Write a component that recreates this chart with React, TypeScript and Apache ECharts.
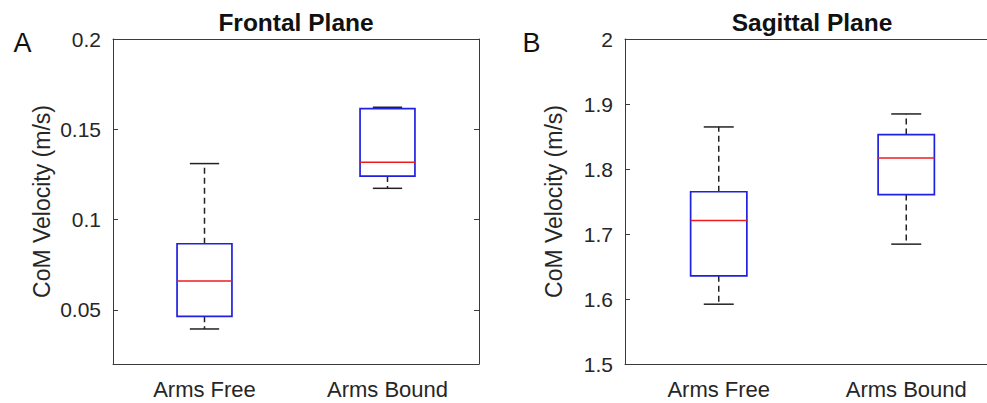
import React, { useEffect, useRef } from "react";
import * as echarts from "echarts";

const categories = ["Arms Free", "Arms Bound"];

// Frontal plane (A)
const frontalMin = [0.0394, 0.1173];
const frontalQ1 = [0.0464, 0.1241];
const frontalMedian = [0.066, 0.1317];
const frontalQ3 = [0.0866, 0.1614];
const frontalMax = [0.131, 0.1622];

// Sagittal plane (B)
const sagittalMin = [1.592, 1.6844];
const sagittalQ1 = [1.6357, 1.7607];
const sagittalMedian = [1.7207, 1.817];
const sagittalQ3 = [1.765, 1.853];
const sagittalMax = [1.8647, 1.8847];

const frontalTicks = [0.05, 0.1, 0.15, 0.2];
const sagittalTicks = [1.5, 1.6, 1.7, 1.8, 1.9, 2];

const FONT = "'Liberation Sans', Arial, sans-serif";
const TXT = "#262626";
const AX = "#3a3a3a";

function buildRows(mn: number[], q1: number[], md: number[], q3: number[], mx: number[]) {
  return categories.map((_, i) => [i, mn[i], q1[i], md[i], q3[i], mx[i]]);
}

const renderBox = (params: any, api: any) => {
  const x = api.value(0);
  const pLo = api.coord([x, api.value(1)]);
  const pQ1 = api.coord([x, api.value(2)]);
  const pMd = api.coord([x, api.value(3)]);
  const pQ3 = api.coord([x, api.value(4)]);
  const pHi = api.coord([x, api.value(5)]);
  const band = api.size([1, 0])[0];
  const cx = pLo[0];
  const bw = band * 0.3;
  const cw = band * 0.16;
  const dashStyle = { stroke: "#222", lineWidth: 1.5, lineDash: [6, 4] };
  const solid = { stroke: "#222", lineWidth: 1.5 };
  return {
    type: "group",
    children: [
      { type: "line", shape: { x1: cx, y1: pQ3[1], x2: cx, y2: pHi[1] }, style: dashStyle },
      { type: "line", shape: { x1: cx, y1: pQ1[1], x2: cx, y2: pLo[1] }, style: dashStyle },
      { type: "line", shape: { x1: cx - cw / 2, y1: pHi[1], x2: cx + cw / 2, y2: pHi[1] }, style: solid },
      { type: "line", shape: { x1: cx - cw / 2, y1: pLo[1], x2: cx + cw / 2, y2: pLo[1] }, style: solid },
      {
        type: "rect",
        shape: { x: cx - bw / 2, y: pQ3[1], width: bw, height: pQ1[1] - pQ3[1] },
        style: { fill: "#fff", stroke: "#2020e0", lineWidth: 1.7 },
      },
      { type: "line", shape: { x1: cx - bw / 2, y1: pMd[1], x2: cx + bw / 2, y2: pMd[1] }, style: { stroke: "#ee1c1c", lineWidth: 1.5 } },
    ],
  };
};

const fmt = (v: number) => String(+Number(v).toFixed(2));

function makeAxes(gridIndex: number, min: number, max: number, ticks: number[], withName: boolean) {
  const x = [
    {
      type: "category", gridIndex, data: categories, boundaryGap: true, position: "bottom",
      axisLine: { lineStyle: { color: AX, width: 1 } },
      axisTick: { inside: true, alignWithLabel: true, length: 5, lineStyle: { color: AX } },
      axisLabel: { color: TXT, fontSize: 22, fontFamily: FONT, margin: 14 },
      splitLine: { show: false },
    },
    {
      type: "category", gridIndex, data: categories, boundaryGap: true, position: "top",
      axisLine: { lineStyle: { color: AX, width: 1 } },
      axisTick: { inside: true, alignWithLabel: true, length: 5, lineStyle: { color: AX } },
      axisLabel: { show: false },
      splitLine: { show: false },
    },
  ];
  const y = [
    {
      type: "value", gridIndex, min, max, position: "left",
      name: withName ? "CoM Velocity (m/s)" : "",
      nameLocation: "middle", nameGap: 60, nameRotate: 90,
      nameTextStyle: { color: TXT, fontSize: 23, fontFamily: FONT },
      axisLine: { show: true, lineStyle: { color: AX, width: 1 } },
      axisTick: { show: true, inside: true, length: 5, customValues: ticks, lineStyle: { color: AX } },
      axisLabel: { color: TXT, fontSize: 21, fontFamily: FONT, margin: 12, customValues: ticks, formatter: fmt },
      splitLine: { show: false },
    },
    {
      type: "value", gridIndex, min, max, position: "right",
      axisLine: { show: true, lineStyle: { color: AX, width: 1 } },
      axisTick: { show: true, inside: true, length: 5, customValues: ticks, lineStyle: { color: AX } },
      axisLabel: { show: false },
      splitLine: { show: false },
    },
  ];
  return { x, y };
}

export default function App() {
  const ref = useRef<HTMLDivElement>(null);
  useEffect(() => {
    if (!ref.current) return;
    const chart = echarts.init(ref.current, undefined, { renderer: "svg" });
    const a = makeAxes(0, 0.02, 0.2, frontalTicks, true);
    const b = makeAxes(1, 1.5, 2, sagittalTicks, true);
    const option: any = {
      animation: false,
      backgroundColor: "#fff",
      grid: [
        { left: 113, top: 39, width: 366, height: 325, outerBoundsMode: "none", containLabel: false },
        { left: 625, top: 39, width: 375, height: 325, outerBoundsMode: "none", containLabel: false },
      ],
      xAxis: [...a.x, ...b.x],
      yAxis: [...a.y, ...b.y],
      series: [
        {
          type: "custom", xAxisIndex: 0, yAxisIndex: 0, renderItem: renderBox,
          encode: { x: 0, y: [1, 2, 3, 4, 5] },
          data: buildRows(frontalMin, frontalQ1, frontalMedian, frontalQ3, frontalMax),
        },
        {
          type: "custom", xAxisIndex: 2, yAxisIndex: 2, renderItem: renderBox,
          encode: { x: 0, y: [1, 2, 3, 4, 5] },
          data: buildRows(sagittalMin, sagittalQ1, sagittalMedian, sagittalQ3, sagittalMax),
        },
      ],
      graphic: [
        { type: "text", x: 296, y: 22, style: { text: "Frontal Plane", fontSize: 24.5, fontWeight: "bold", fontFamily: FONT, fill: "#111", textAlign: "center", textVerticalAlign: "middle" } },
        { type: "text", x: 812, y: 22, style: { text: "Sagittal Plane", fontSize: 24.5, fontWeight: "bold", fontFamily: FONT, fill: "#111", textAlign: "center", textVerticalAlign: "middle" } },
        { type: "text", x: 22.5, y: 43, style: { text: "A", fontSize: 27, fontFamily: FONT, fill: "#111", textAlign: "center", textVerticalAlign: "middle" } },
        { type: "text", x: 531.5, y: 43, style: { text: "B", fontSize: 27, fontFamily: FONT, fill: "#111", textAlign: "center", textVerticalAlign: "middle" } },
      ],
    };
    chart.setOption(option);
    return () => chart.dispose();
  }, []);
  return <div ref={ref} style={{ position: "fixed", left: 0, top: 0, width: 987, height: 403 }} />;
}
